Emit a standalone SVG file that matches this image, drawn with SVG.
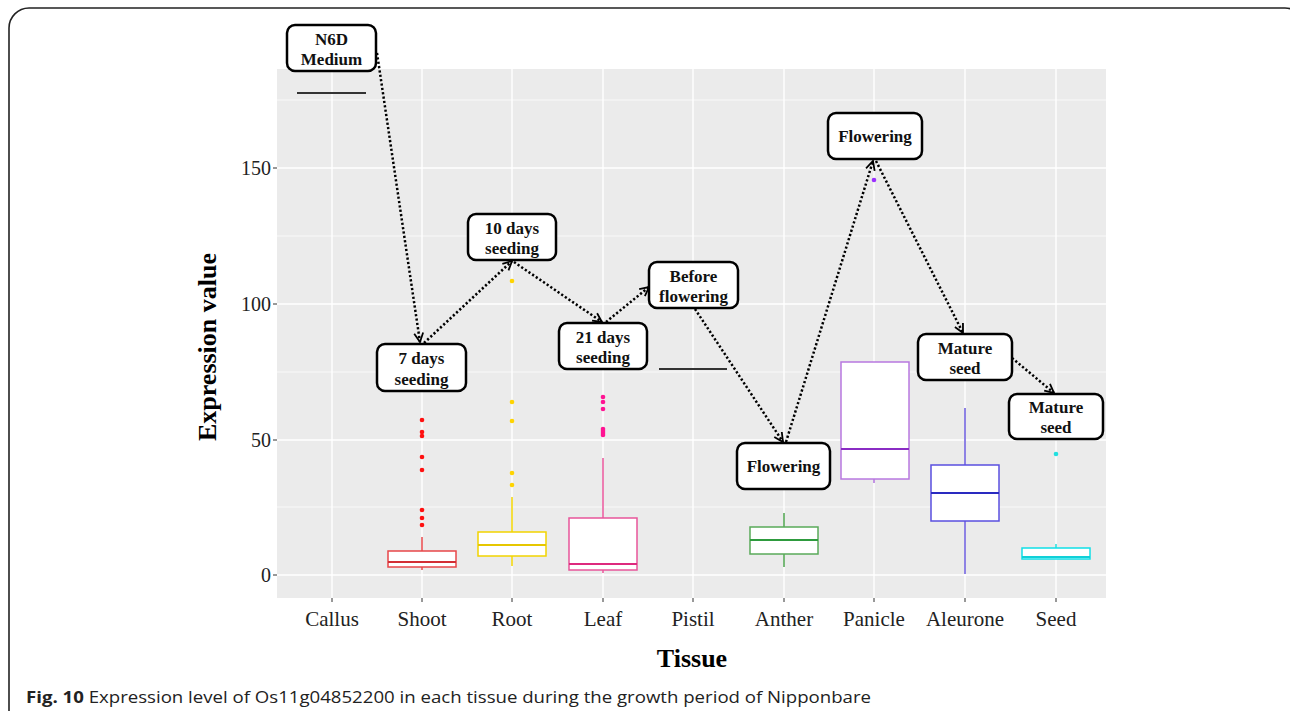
<svg xmlns="http://www.w3.org/2000/svg" width="1290" height="711" viewBox="0 0 1290 711">
<style>
.frame{fill:none;stroke:#222;stroke-width:1.6}
.panel{fill:#EBEBEB}
.gmaj{stroke:#fff;stroke-width:1.4}
.gmin{stroke:#fff;stroke-width:0.7}
.tick{stroke:#333;stroke-width:1}
.ytl{font-family:"Liberation Serif",serif;font-size:20px;fill:#222;text-anchor:end}
.xtl{font-family:"Liberation Serif",serif;font-size:21px;fill:#222;text-anchor:middle}
.axt{font-family:"Liberation Serif",serif;font-size:26px;font-weight:bold;fill:#000;text-anchor:middle}
.lbl rect{fill:#fff;stroke:#000;stroke-width:2.5}
.lbl text{font-family:"Liberation Serif",serif;font-size:17px;font-weight:bold;fill:#111;text-anchor:middle}
.box{fill:#fff;stroke-width:1.5}
.med{stroke-width:2}
.wh{stroke-width:1.5}
.conn{fill:none;stroke:#000;stroke-width:2.5;stroke-dasharray:2.2 2.2;marker-end:url(#arr)}
.cap{font-family:"Open Sans","Liberation Sans",sans-serif;font-size:16px;fill:#222}
</style>
<defs>
<marker id="arr" markerUnits="userSpaceOnUse" markerWidth="12" markerHeight="12" viewBox="0 0 12 12" refX="11" refY="6" orient="auto">
<path d="M2,1.5 L11,6 L2,10.5" fill="none" stroke="#000" stroke-width="1.8"/>
</marker>
</defs>
<rect x="0" y="0" width="1290" height="711" fill="#fff"/>
<rect class="frame" x="9" y="8" width="1296" height="740" rx="20"/>

<g id="plot-panel">
<rect class="panel" x="277" y="69" width="829" height="529"/>
<line class="gmin" x1="277" y1="100" x2="1106" y2="100"/>
<line class="gmin" x1="277" y1="236" x2="1106" y2="236"/>
<line class="gmin" x1="277" y1="372" x2="1106" y2="372"/>
<line class="gmin" x1="277" y1="507" x2="1106" y2="507"/>
<line class="gmaj" x1="277" y1="168" x2="1106" y2="168"/>
<line class="gmaj" x1="277" y1="304" x2="1106" y2="304"/>
<line class="gmaj" x1="277" y1="440" x2="1106" y2="440"/>
<line class="gmaj" x1="277" y1="575" x2="1106" y2="575"/>
<line class="gmaj" x1="332" y1="69" x2="332" y2="598"/>
<line class="gmaj" x1="422" y1="69" x2="422" y2="598"/>
<line class="gmaj" x1="512" y1="69" x2="512" y2="598"/>
<line class="gmaj" x1="603" y1="69" x2="603" y2="598"/>
<line class="gmaj" x1="693" y1="69" x2="693" y2="598"/>
<line class="gmaj" x1="784" y1="69" x2="784" y2="598"/>
<line class="gmaj" x1="874" y1="69" x2="874" y2="598"/>
<line class="gmaj" x1="965" y1="69" x2="965" y2="598"/>
<line class="gmaj" x1="1056" y1="69" x2="1056" y2="598"/>
</g>

<g id="axes">
<line class="tick" x1="273" y1="168" x2="277" y2="168"/>
<line class="tick" x1="273" y1="304" x2="277" y2="304"/>
<line class="tick" x1="273" y1="440" x2="277" y2="440"/>
<line class="tick" x1="273" y1="575" x2="277" y2="575"/>
<text class="ytl" x="271" y="175">150</text>
<text class="ytl" x="271" y="311">100</text>
<text class="ytl" x="271" y="447">50</text>
<text class="ytl" x="271" y="582">0</text>
<line class="tick" x1="332" y1="598" x2="332" y2="602"/>
<line class="tick" x1="422" y1="598" x2="422" y2="602"/>
<line class="tick" x1="512" y1="598" x2="512" y2="602"/>
<line class="tick" x1="603" y1="598" x2="603" y2="602"/>
<line class="tick" x1="693" y1="598" x2="693" y2="602"/>
<line class="tick" x1="784" y1="598" x2="784" y2="602"/>
<line class="tick" x1="874" y1="598" x2="874" y2="602"/>
<line class="tick" x1="965" y1="598" x2="965" y2="602"/>
<line class="tick" x1="1056" y1="598" x2="1056" y2="602"/>
<text class="xtl" x="332" y="626">Callus</text>
<text class="xtl" x="422" y="626">Shoot</text>
<text class="xtl" x="512" y="626">Root</text>
<text class="xtl" x="603" y="626">Leaf</text>
<text class="xtl" x="693" y="626">Pistil</text>
<text class="xtl" x="784" y="626">Anther</text>
<text class="xtl" x="874" y="626">Panicle</text>
<text class="xtl" x="965" y="626">Aleurone</text>
<text class="xtl" x="1056" y="626">Seed</text>
<text class="axt" x="692" y="667">Tissue</text>
<text class="axt" transform="translate(216,347) rotate(-90)" x="0" y="0">Expression value</text>
</g>

<g id="boxplots">
<g id="bp-callus"><line x1="297" y1="93" x2="366" y2="93" stroke="#333" stroke-width="2"/></g>
<g id="bp-shoot">
<line class="wh" x1="422" y1="537" x2="422" y2="551" stroke="#E8474A"/>
<line class="wh" x1="422" y1="567" x2="422" y2="570" stroke="#E8474A"/>
<rect class="box" x="388" y="551" width="68" height="16" stroke="#E8474A"/>
<line class="med" x1="388" y1="562" x2="456" y2="562" stroke="#D22F35"/>
<g fill="#FF1010"><circle cx="422" cy="420" r="2.3"/><circle cx="422" cy="432" r="2.3"/><circle cx="422" cy="436" r="2.3"/><circle cx="422" cy="457" r="2.3"/><circle cx="422" cy="470" r="2.3"/><circle cx="422" cy="510" r="2.3"/><circle cx="422" cy="518" r="2.3"/><circle cx="422" cy="525" r="2.3"/></g>
</g>
<g id="bp-root">
<line class="wh" x1="512" y1="497" x2="512" y2="532" stroke="#F2D400"/>
<line class="wh" x1="512" y1="556" x2="512" y2="566" stroke="#F2D400"/>
<rect class="box" x="478" y="532" width="68" height="24" stroke="#F2D400"/>
<line class="med" x1="478" y1="545" x2="546" y2="545" stroke="#E6C700"/>
<g fill="#FFD400"><circle cx="512" cy="281" r="2.3"/><circle cx="512" cy="402" r="2.3"/><circle cx="512" cy="421" r="2.3"/><circle cx="512" cy="473" r="2.3"/><circle cx="512" cy="485" r="2.3"/></g>
</g>
<g id="bp-leaf">
<line class="wh" x1="603" y1="458" x2="603" y2="518" stroke="#E8559A"/>
<line class="wh" x1="603" y1="570" x2="603" y2="573" stroke="#E8559A"/>
<rect class="box" x="569" y="518" width="68" height="52" stroke="#E8559A"/>
<line class="med" x1="569" y1="564" x2="637" y2="564" stroke="#DE2A7E"/>
<g fill="#FF1493"><circle cx="603" cy="397" r="2.3"/><circle cx="603" cy="402" r="2.3"/><circle cx="603" cy="409" r="2.3"/><circle cx="603" cy="429" r="2.3"/><circle cx="603" cy="431" r="2.3"/><circle cx="603" cy="433" r="2.3"/><circle cx="603" cy="435" r="2.3"/></g>
</g>
<g id="bp-pistil"><line x1="659" y1="369" x2="727" y2="369" stroke="#333" stroke-width="2"/></g>
<g id="bp-anther">
<line class="wh" x1="784" y1="513" x2="784" y2="527" stroke="#4CA34C"/>
<line class="wh" x1="784" y1="554" x2="784" y2="567" stroke="#4CA34C"/>
<rect class="box" x="750" y="527" width="68" height="27" stroke="#5AAA5A"/>
<line class="med" x1="750" y1="540" x2="818" y2="540" stroke="#2E9B3E"/>
</g>
<g id="bp-panicle">
<line class="wh" x1="874" y1="479" x2="874" y2="483" stroke="#B070DD"/>
<rect class="box" x="841" y="362" width="68" height="117" stroke="#B878E0"/>
<line class="med" x1="841" y1="449" x2="909" y2="449" stroke="#8A2CC4"/>
<circle cx="874" cy="180" r="2.3" fill="#9B30FF"/>
</g>
<g id="bp-aleurone">
<line class="wh" x1="965" y1="408" x2="965" y2="465" stroke="#6A5ADD"/>
<line class="wh" x1="965" y1="521" x2="965" y2="574" stroke="#6A5ADD"/>
<rect class="box" x="931" y="465" width="68" height="56" stroke="#5A4FE0"/>
<line class="med" x1="931" y1="493" x2="999" y2="493" stroke="#2A2AC0"/>
</g>
<g id="bp-seed">
<line class="wh" x1="1056" y1="544" x2="1056" y2="548" stroke="#22DDDD"/>
<rect class="box" x="1022" y="548" width="68" height="11" stroke="#10E0E8"/>
<line class="med" x1="1022" y1="557" x2="1090" y2="557" stroke="#10D0D8"/>
<circle cx="1056" cy="454" r="2.3" fill="#22E0E0"/>
</g>
</g>

<g id="connectors">
<path class="conn" d="M377,53 L420,342"/>
<path class="conn" d="M424,343 L512,261"/>
<path class="conn" d="M514,262 L602,322"/>
<path class="conn" d="M606,322 L649,287"/>
<path class="conn" d="M695,309 L783,442"/>
<path class="conn" d="M786,442 L873,161"/>
<path class="conn" d="M876,161 L963,333"/>
<path class="conn" d="M1012,358 L1054,393"/>
</g>

<g id="n6d-medium" class="lbl"><rect x="287" y="25" width="89" height="46" rx="8"/><text x="331.5" y="45">N6D</text><text x="331.5" y="65">Medium</text></g>
<g id="days7" class="lbl"><rect x="377" y="344" width="89" height="47" rx="8"/><text x="421.5" y="364">7 days</text><text x="421.5" y="385">seeding</text></g>
<g id="days10" class="lbl"><rect x="468" y="214" width="88" height="46" rx="8"/><text x="512" y="234">10 days</text><text x="512" y="254">seeding</text></g>
<g id="before-flowering" class="lbl"><rect x="649" y="262" width="89" height="46" rx="8"/><text x="693.5" y="282">Before</text><text x="693.5" y="302">flowering</text></g>
<g id="days21" class="lbl"><rect x="559" y="323" width="88" height="46" rx="8"/><text x="603" y="343">21 days</text><text x="603" y="363">seeding</text></g>
<g id="flowering-top" class="lbl"><rect x="828" y="113" width="94" height="46" rx="8"/><text x="875" y="142">Flowering</text></g>
<g id="flowering-low" class="lbl"><rect x="737" y="443" width="93" height="46" rx="8"/><text x="783.5" y="472">Flowering</text></g>
<g id="mature-seed-1" class="lbl"><rect x="918" y="334" width="94" height="46" rx="8"/><text x="965" y="354">Mature</text><text x="965" y="374">seed</text></g>
<g id="mature-seed-2" class="lbl"><rect x="1009" y="394" width="94" height="45" rx="8"/><text x="1056" y="413">Mature</text><text x="1056" y="433">seed</text></g>

<text class="cap" x="26" y="703" textLength="845" lengthAdjust="spacingAndGlyphs"><tspan font-weight="bold">Fig. 10</tspan> Expression level of Os11g04852200 in each tissue during the growth period of Nipponbare</text>
</svg>
